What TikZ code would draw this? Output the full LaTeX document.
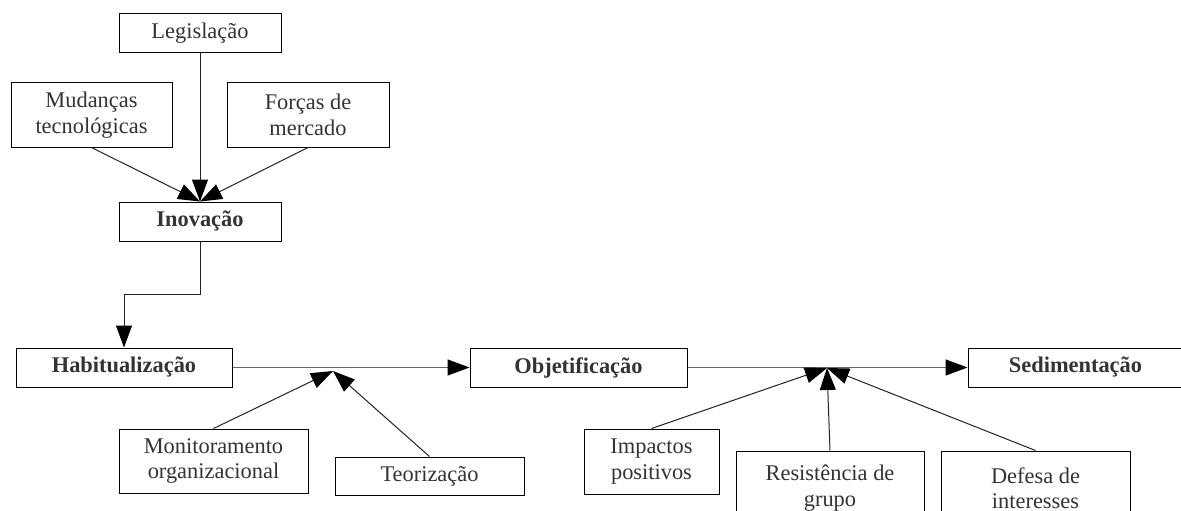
\documentclass[tikz,border=0pt]{standalone}
\usepackage{fontspec}
\setmainfont{Liberation Serif}
\usetikzlibrary{arrows.meta}
\definecolor{txt}{HTML}{333333}
\definecolor{ln}{HTML}{222222}
\tikzset{
  box/.style={draw=black, line width=1pt, fill=white, rectangle, inner sep=0pt, align=center,
    text=txt, font=\fontsize{22.4}{25.5}\selectfont},
  bbox/.style={box, font=\fontsize{22.4}{25.5}\selectfont\bfseries},
  conn/.style={draw=ln, line width=1pt, -{Triangle[length=22pt,width=16pt,color=black]}},
  hconn/.style={conn, draw=black!60, line width=1.4pt},
}
\begin{document}
\begin{tikzpicture}[x=1pt, y=-1pt]
\useasboundingbox (0,0) rectangle (1181,511);
\clip (0,0) rectangle (1181,511);
% nodes
\node[box, minimum width=162pt, minimum height=39pt] (leg) at (200,33.5) {Legislação};
\node[box, minimum width=161pt, minimum height=64pt] (mud) at (91.5,115) {Mudanças\\tecnológicas};
\node[box, minimum width=162pt, minimum height=64pt] (for) at (308,115) {Forças de\\mercado};
\node[bbox, minimum width=162pt, minimum height=39pt] (ino) at (200,221.5) {Inovação};
\node[bbox, minimum width=216pt, minimum height=39pt] (hab) at (124,367.5) {Habitualização};
\node[bbox, minimum width=217pt, minimum height=39pt] (obj) at (578.5,367.5) {Objetificação};
\node[bbox, minimum width=215pt, minimum height=39pt] (sed) at (1075.5,367.5) {Sedimentação};
\node[box, minimum width=189pt, minimum height=64pt] (mon) at (213.5,461) {Monitoramento\\organizacional};
\node[box, minimum width=189pt, minimum height=38pt] (teo) at (429.5,476) {Teorização};
\node[box, minimum width=135pt, minimum height=65pt] (imp) at (651.5,461.5) {Impactos\\positivos};
\node[box, minimum width=188pt, minimum height=74pt] (res) at (830,488) {Resistência de\\grupo};
\node[box, minimum width=189pt, minimum height=74pt] (def) at (1035.5,488) {Defesa de\\interesses};
% junction coordinates
\coordinate (elbow) at (200,294);
\coordinate (j1) at (333,371);
\coordinate (j2) at (827,368);
% connectors
\draw[conn] (leg.south) -- (ino.north);
\draw[conn] (mud.south) -- (ino.north);
\draw[conn] (for.south) -- (ino.north);
\draw[conn] (ino.south) -- (elbow) -| (hab.north);
\draw[hconn] (hab.east) -- (obj.west);
\draw[hconn] (obj.east) -- (sed.west);
\draw[conn] (mon.north) -- (j1);
\draw[conn] (teo.north) -- (j1);
\draw[conn] (imp.north) -- (j2);
\draw[conn] (res.north) -- (j2);
\draw[conn] (def.north) -- (j2);
\end{tikzpicture}
\end{document}
